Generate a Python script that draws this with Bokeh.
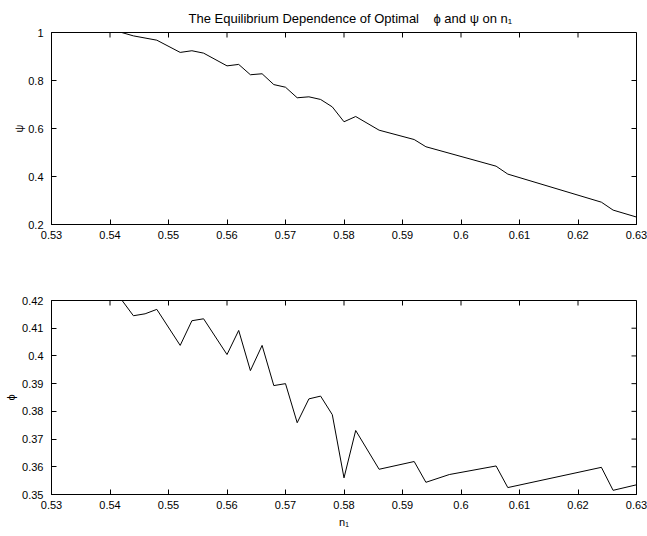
from bokeh.plotting import figure
from bokeh.models import Range1d, FixedTicker, ColumnDataSource, Title
from bokeh.layouts import column
from bokeh.embed import file_html
from bokeh.resources import INLINE

# ---------------- data ----------------
n1_psi = [0.530, 0.542, 0.544, 0.548, 0.552, 0.554, 0.556, 0.560, 0.562, 0.564,
          0.566, 0.568, 0.570, 0.572, 0.574, 0.576, 0.578, 0.580, 0.582, 0.586,
          0.592, 0.594, 0.606, 0.608, 0.624, 0.626, 0.630]
psi = [1.000, 1.000, 0.986, 0.968, 0.917, 0.924, 0.914, 0.861, 0.867, 0.824,
       0.828, 0.783, 0.772, 0.728, 0.732, 0.721, 0.690, 0.628, 0.650, 0.593,
       0.554, 0.524, 0.443, 0.410, 0.293, 0.260, 0.231]

n1_phi = [0.542, 0.544, 0.546, 0.548, 0.552, 0.554, 0.556, 0.560, 0.562, 0.564,
          0.566, 0.568, 0.570, 0.572, 0.574, 0.576, 0.578, 0.580, 0.582, 0.586,
          0.592, 0.594, 0.598, 0.606, 0.608, 0.624, 0.626, 0.630]
phi = [0.4202, 0.4145, 0.4152, 0.4168, 0.4038, 0.4127, 0.4134, 0.4005, 0.4092, 0.3947,
       0.4038, 0.3893, 0.3900, 0.3759, 0.3845, 0.3855, 0.3788, 0.3560, 0.3731, 0.3591,
       0.3619, 0.3544, 0.3572, 0.3603, 0.3525, 0.3598, 0.3515, 0.3535]

x_ticks = [0.53, 0.54, 0.55, 0.56, 0.57, 0.58, 0.59, 0.60, 0.61, 0.62, 0.63]
x_tick_labels = ["0.53", "0.54", "0.55", "0.56", "0.57", "0.58", "0.59", "0.6", "0.61", "0.62", "0.63"]
psi_ticks = [0.2, 0.4, 0.6, 0.8, 1.0]
psi_tick_labels = ["0.2", "0.4", "0.6", "0.8", "1"]
phi_ticks = [0.35, 0.36, 0.37, 0.38, 0.39, 0.40, 0.41, 0.42]
phi_tick_labels = ["0.35", "0.36", "0.37", "0.38", "0.39", "0.4", "0.41", "0.42"]

NB = "\u00a0"
title_text = "The Equilibrium Dependence of Optimal" + NB * 4 + "\u03d5 and \u03c8 on n\u2081"
psi_label = "\u03c8"
phi_label = "\u03d5"
xlabel = "n\u2081"

FONT = "Liberation Sans"
FS = "11px"
FRAME_W = 585
TICK_PX = 5


def style_axis(ax):
    ax.axis_line_color = "black"
    ax.axis_line_width = 1
    ax.major_tick_line_color = "black"
    ax.major_tick_line_width = 1
    ax.major_tick_in = TICK_PX
    ax.major_tick_out = 0
    ax.minor_tick_line_color = None
    ax.major_label_text_font = FONT
    ax.major_label_text_font_size = FS
    ax.major_label_text_color = "black"
    ax.axis_label_text_font = FONT
    ax.axis_label_text_font_size = FS
    ax.axis_label_text_font_style = "normal"
    ax.axis_label_text_color = "black"


def make_fig(xs, ys, yr, yticks, ylabels, ylab, ylab_standoff,
             frame_h, border_top, border_bottom):
    x0, x1 = x_ticks[0], x_ticks[-1]
    y0, y1 = yr
    p = figure(frame_width=FRAME_W, frame_height=frame_h,
               x_range=Range1d(x0, x1), y_range=Range1d(y0, y1),
               output_backend="svg", toolbar_location=None,
               min_border_left=51, min_border_right=11,
               min_border_top=border_top, min_border_bottom=border_bottom)
    p.background_fill_color = "white"
    p.border_fill_color = "white"
    p.outline_line_color = "black"
    p.outline_line_width = 1
    p.xgrid.visible = False
    p.ygrid.visible = False

    p.xaxis.ticker = FixedTicker(ticks=x_ticks)
    p.yaxis.ticker = FixedTicker(ticks=yticks)
    p.xaxis.major_label_overrides = dict(zip(x_ticks, x_tick_labels))
    p.yaxis.major_label_overrides = dict(zip(yticks, ylabels))
    for ax in p.xaxis:
        style_axis(ax)
        ax.major_label_standoff = 6
    for ax in p.yaxis:
        style_axis(ax)
        ax.major_label_standoff = 8
        ax.axis_label = ylab
        ax.axis_label_standoff = ylab_standoff

    # inward ticks on the top and right edges of the box
    dy = (y1 - y0) / frame_h * TICK_PX
    dx = (x1 - x0) / FRAME_W * TICK_PX
    top_src = ColumnDataSource(dict(xa=x_ticks, ya=[y1] * len(x_ticks),
                                    xb=x_ticks, yb=[y1 - dy] * len(x_ticks)))
    right_src = ColumnDataSource(dict(xa=[x1] * len(yticks), ya=yticks,
                                      xb=[x1 - dx] * len(yticks), yb=yticks))
    p.segment("xa", "ya", "xb", "yb", source=top_src, line_color="black", line_width=1)
    p.segment("xa", "ya", "xb", "yb", source=right_src, line_color="black", line_width=1)

    src = ColumnDataSource(dict(x=xs, y=ys))
    p.line("x", "y", source=src, line_color="black", line_width=1)
    return p


p1 = make_fig(n1_psi, psi, (0.2, 1.0), psi_ticks, psi_tick_labels, psi_label, 0, 192, 32, 38)
p2 = make_fig(n1_phi, phi, (0.35, 0.42), phi_ticks, phi_tick_labels, phi_label, 2, 194, 38, 42)

p1.title = Title(text=title_text, align="left", offset=137, text_font=FONT,
                 text_font_size="13px", text_font_style="normal", text_color="black",
                 standoff=13)
p2.xaxis.axis_label = xlabel
p2.xaxis.axis_label_standoff = 4

layout = column(p1, p2, spacing=0)
open("out.html", "w").write(file_html(layout, INLINE))
